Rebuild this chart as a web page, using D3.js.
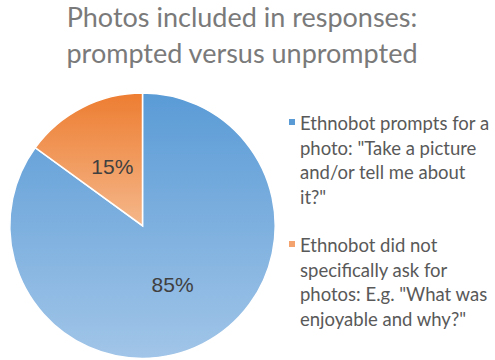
<!DOCTYPE html>
<html>
<head>
<meta charset="utf-8">
<script src="https://cdn.jsdelivr.net/npm/d3@7"></script>
<style>
  body { margin: 0; background: #fff; }
  svg { display: block; }
</style>
</head>
<body>
<div id="chart"></div>
<script>
// Chart data
const titleLines = ['Photos included in responses:', 'prompted versus unprompted'];
const categories = [
  'Ethnobot prompts for a photo: "Take a picture and/or tell me about it?"',
  'Ethnobot did not specifically ask for photos: E.g. "What was enjoyable and why?"'
];
const legendLines = [
  ['Ethnobot prompts for a', 'photo: "Take a picture', 'and/or tell me about', 'it?"'],
  ['Ethnobot did not', 'specifically ask for', 'photos: E.g. "What was', 'enjoyable and why?"']
];
const values = [85, 15];
const labels = ['85%', '15%'];

const width = 495;
const height = 360;
const cx = 142.5;
const cy = 225.7;
const radius = 132.7;
const font = 'Lato, "Open Sans", sans-serif';

const gradients = [
  { top: '#5a9bd6', bottom: '#a1c5e8', key: '#5b9bd5' },
  { top: '#ed7d31', bottom: '#f5b78a', key: '#f4a26e' }
];

const svg = d3.select('#chart').append('svg')
  .attr('width', width)
  .attr('height', height);

const defs = svg.append('defs');
gradients.forEach((g, i) => {
  const lg = defs.append('linearGradient')
    .attr('id', 'grad' + i)
    .attr('x1', 0).attr('y1', 0)
    .attr('x2', 0).attr('y2', 1);
  lg.append('stop').attr('offset', '0%').attr('stop-color', g.top);
  lg.append('stop').attr('offset', '100%').attr('stop-color', g.bottom);
});

// Title
const title = svg.append('g').attr('class', 'title');
title.selectAll('text')
  .data(titleLines)
  .enter().append('text')
    .attr('x', 242)
    .attr('y', (d, i) => 27 + i * 36)
    .attr('text-anchor', 'middle')
    .style('font-family', font)
    .style('font-size', '27px')
    .style('fill', '#7a7a7a')
    .text(d => d);

// Pie
const pie = d3.pie().sort(null).value(d => d);
const arc = d3.arc().innerRadius(0).outerRadius(radius);
const labelArc = d3.arc().innerRadius(radius * 0.5).outerRadius(radius * 0.5);

const plot = svg.append('g')
  .attr('transform', `translate(${cx}, ${cy})`);

const slices = plot.selectAll('.slice')
  .data(pie(values))
  .enter().append('g')
    .attr('class', 'slice');

slices.append('path')
  .attr('d', arc)
  .style('fill', (d, i) => `url(#grad${i})`)
  .style('stroke', '#fff')
  .style('stroke-width', 1.5);

slices.append('text')
  .attr('transform', d => `translate(${labelArc.centroid(d)})`)
  .attr('dy', '0.35em')
  .attr('text-anchor', 'middle')
  .style('font-family', '"Liberation Sans", Arial, sans-serif')
  .style('font-size', '21px')
  .style('fill', '#404040')
  .text((d, i) => labels[i]);

// Legend
const legendTop = [130, 252];
const legend = svg.append('g').attr('class', 'legend');
const items = legend.selectAll('.item')
  .data(categories)
  .enter().append('g')
    .attr('class', 'item')
    .attr('transform', (d, i) => `translate(0, ${legendTop[i]})`);

items.append('rect')
  .attr('x', 289)
  .attr('y', -11)
  .attr('width', 6)
  .attr('height', 6)
  .style('fill', (d, i) => gradients[i].key);

items.append('text')
  .style('font-family', font)
  .style('font-size', '18.5px')
  .style('fill', '#595959')
  .selectAll('tspan')
  .data((d, i) => legendLines[i])
  .enter().append('tspan')
    .attr('x', 300)
    .attr('y', (d, j) => j * 24.5)
    .text(d => d);
</script>
</body>
</html>
